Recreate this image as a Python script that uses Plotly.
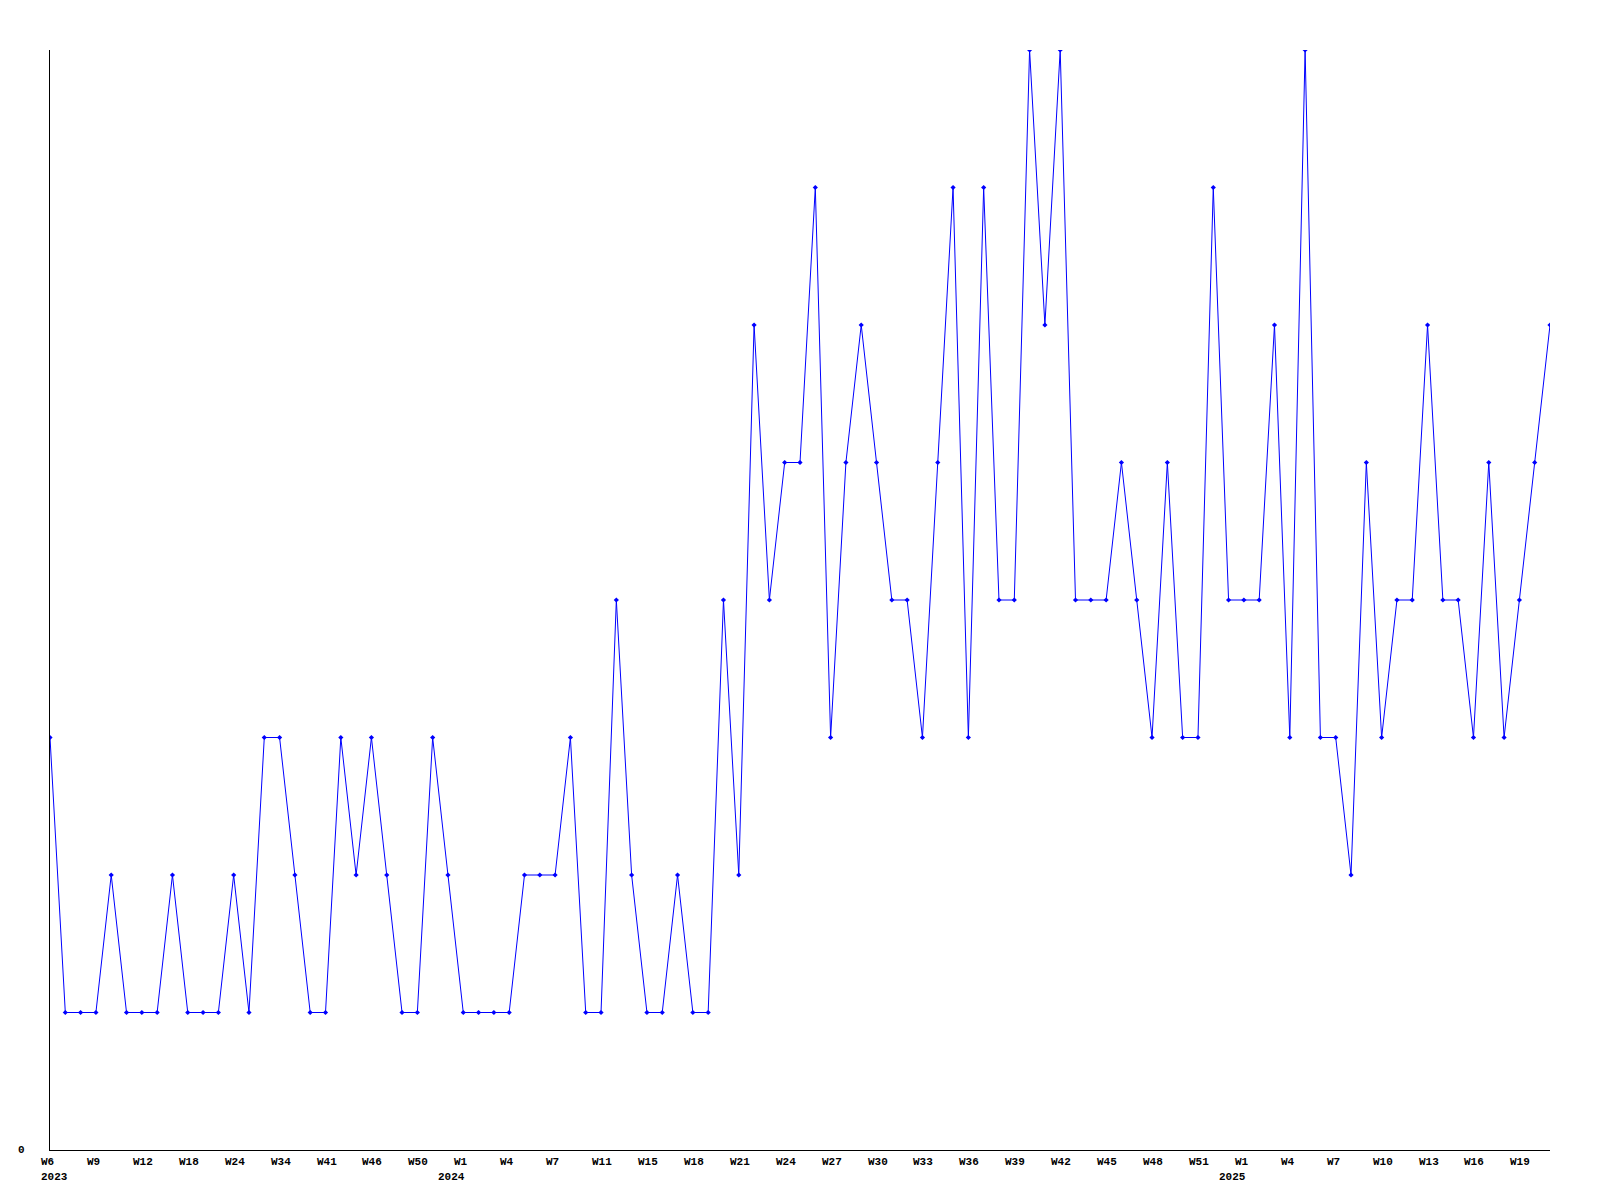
import plotly.graph_objects as go

# Week categories (year, week) for every data point
years = [2023] * 27 + [2024] * 51 + [2025] * 21
weeks = [6, 7, 8, 9, 10, 11, 12, 14, 16, 18, 20, 22, 24, 27, 31, 34, 37, 39, 41, 43, 45, 46, 47, 48, 50, 51, 52,
         1, 2, 3, 4, 5, 6, 7, 8, 9, 11, 12, 13, 15, 16, 17, 18, 19, 20, 21, 22, 23, 24, 25, 26, 27, 28, 29, 30,
         31, 32, 33, 34, 35, 36, 37, 38, 39, 40, 41, 42, 43, 44, 45, 46, 47, 48, 49, 50, 51, 52, 53,
         1, 2, 3, 4, 5, 6, 7, 8, 9, 10, 11, 12, 13, 14, 15, 16, 17, 18, 19, 20, 21]
categories = [f"{y}-W{w}" for y, w in zip(years, weeks)]

values = [3, 1, 1, 1, 2, 1, 1, 1, 2, 1, 1, 1, 2, 1, 3, 3, 2, 1, 1, 3, 2, 3, 2, 1, 1, 3, 2,
          1, 1, 1, 1, 2, 2, 2, 3, 1, 1, 4, 2, 1, 1, 2, 1, 1, 4, 2, 6, 4, 5, 5, 7, 3, 5, 6, 5,
          4, 4, 3, 5, 7, 3, 7, 4, 4, 8, 6, 8, 4, 4, 4, 5, 4, 3, 5, 3, 3, 7, 4, 4,
          4, 6, 3, 8, 3, 3, 2, 5, 3, 4, 4, 6, 4, 4, 3, 5, 3, 4, 5, 6]

tick_idx = list(range(0, 97, 3))
tick_labels = [f"W{weeks[i]}" for i in tick_idx]
year_idx = [0, 27, 78]
year_labels = ["2023", "2024", "2025"]

font = dict(family="Liberation Mono", size=11, color="black")

fig = go.Figure()
fig.add_trace(go.Scatter(
    x=categories, y=values, mode="lines+markers",
    line=dict(color="#0000ff", width=1),
    marker=dict(symbol="diamond", size=4, color="#0000ff"),
    hoverinfo="x+y",
))

annotations = []
for i, t in zip(tick_idx, tick_labels):
    annotations.append(dict(x=categories[i], y=0, xref="x", yref="paper", text=f"<b>{t}</b>",
                            showarrow=False, xanchor="left", yanchor="top", xshift=-11, yshift=-4,
                            font=font))
for k, (i, t) in enumerate(zip(year_idx, year_labels)):
    annotations.append(dict(x=categories[i], y=0, xref="x", yref="paper", text=f"<b>{t}</b>",
                            showarrow=False, xanchor="left", yanchor="top",
                            xshift=(-11 if k == 0 else -27), yshift=-19, font=font))
annotations.append(dict(x=0, y=0, xref="paper", yref="y", text="<b>0</b>", showarrow=False,
                        xanchor="right", yanchor="middle", xshift=-23, font=font))

fig.update_layout(
    width=1592, height=1192,
    margin=dict(l=42, r=50, t=42, b=50),
    paper_bgcolor="white", plot_bgcolor="white",
    showlegend=False,
    annotations=annotations,
    xaxis=dict(type="category", categoryorder="array", categoryarray=categories,
               range=[0, len(categories) - 1], showgrid=False, zeroline=False,
               showline=True, linecolor="black", linewidth=1, showticklabels=False, ticks=""),
    yaxis=dict(range=[0, 8], showgrid=False, zeroline=False, showline=True,
               linecolor="black", linewidth=1, showticklabels=False, ticks=""),
)

fig.write_html("out.html")
